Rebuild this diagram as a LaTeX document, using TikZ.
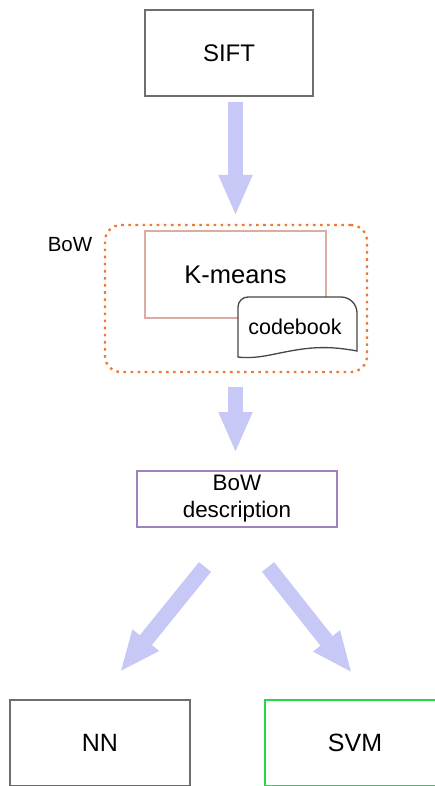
\documentclass[tikz,border=0pt]{standalone}
\usepackage{fontspec}
\setmainfont{Liberation Sans}
\usetikzlibrary{arrows.meta}
\definecolor{flowblue}{RGB}{200,200,246}
\definecolor{boxgray}{RGB}{110,110,110}
\definecolor{dotorange}{RGB}{240,120,50}
\definecolor{kmrose}{RGB}{220,172,160}
\definecolor{descpurple}{RGB}{160,128,190}
\definecolor{svmgreen}{RGB}{40,215,70}
\definecolor{docgray}{RGB}{70,70,70}
\tikzset{
  flow/.style={draw=flowblue, line width=15.5pt,
    -{Triangle[width=31pt,length=41pt]}, color=flowblue},
  classbox/.style={draw=#1, line width=2pt, minimum width=180pt, minimum height=86pt,
    inner sep=0pt, font=\fontsize{25}{30}\selectfont}
}
\begin{document}
\begin{tikzpicture}[x=1pt,y=-1pt]
\useasboundingbox (0,0) rectangle (435,786);
\clip (0,0) rectangle (435,786);
% feature extraction
\node[draw=boxgray, line width=2pt, minimum width=168pt, minimum height=86pt, inner sep=0pt,
  font=\fontsize{24}{28}\selectfont] (sift) at (229,53) {SIFT};
% bag-of-words group
\node[draw=dotorange, line width=2.3pt, dash pattern=on 2.6pt off 4.5pt, rounded corners=16pt,
  minimum width=262pt, minimum height=147pt, inner sep=0pt] (bowgroup) at (236,298.5) {};
\node[font=\fontsize{20.5}{24}\selectfont] (bowlbl) at (70,245) {BoW};
\node[draw=kmrose, line width=2.2pt, minimum width=181pt, minimum height=87pt, inner sep=0pt,
  font=\fontsize{25.5}{30}\selectfont] (kmeans) at (235.5,274.5) {K-means};
% codebook document shape
\filldraw[fill=white, draw=docgray, line width=1.3pt]
  (238,357) -- (238,307) to[out=90,in=180] (248,297) -- (341,297)
  to[out=0,in=90] (357,313) -- (357,351)
  .. controls (320,344) and (300,349) .. (270,355)
  .. controls (255,358) and (245,358) .. (238,357) -- cycle;
\node[font=\fontsize{21.5}{26}\selectfont, inner sep=0pt] (codebook) at (295,327) {codebook};
% descriptor
\node[draw=descpurple, line width=2pt, minimum width=200pt, minimum height=56pt, inner sep=0pt,
  align=center, font=\fontsize{22.4}{27}\selectfont] (desc) at (237,499) {BoW\\description};
% classifiers
\node[classbox=boxgray] (nn) at (100,743) {NN};
\node[classbox=svmgreen] (svm) at (355,743) {SVM};
% flow arrows
\coordinate (a1s) at (235.5,102);
\coordinate (a1e) at (235.5,216);
\coordinate (a2s) at (235.5,387);
\coordinate (a2e) at (235.5,453);
\coordinate (l1s) at (205,567);
\coordinate (l1e) at (120,672);
\coordinate (r1s) at (268,567);
\coordinate (r1e) at (352,673);
\draw[flow] (a1s) -- (a1e);
\draw[flow] (a2s) -- (a2e);
\draw[flow] (l1s) -- (l1e);
\draw[flow] (r1s) -- (r1e);
\end{tikzpicture}
\end{document}
